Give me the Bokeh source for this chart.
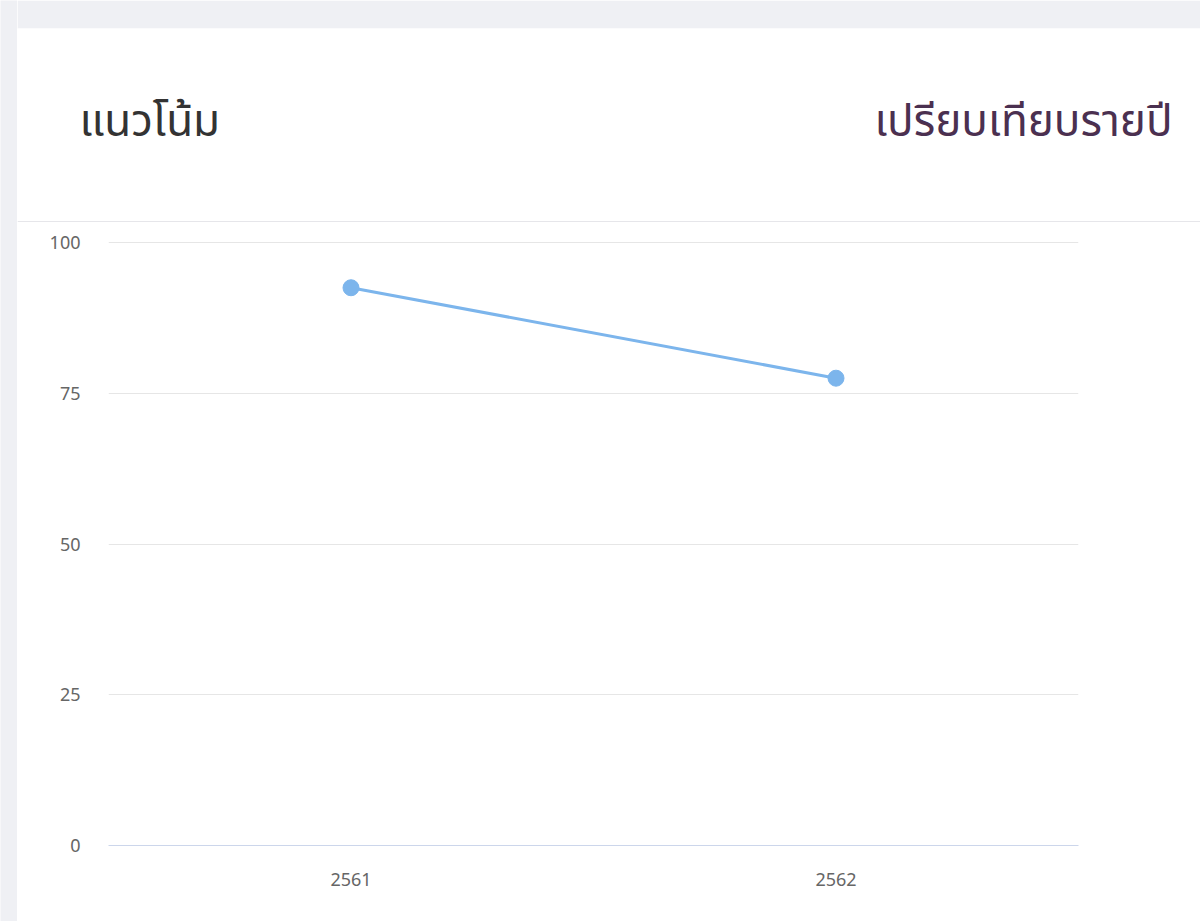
from bokeh.plotting import figure
from bokeh.models import Range1d, FactorRange, Label, Span
from bokeh.layouts import row, column
from bokeh.embed import file_html
from bokeh.resources import INLINE

# ---- data ----
years = ["2561", "2562"]
values = [92.5, 77.5]
y_ticks = [0, 25, 50, 75, 100]
title_left = "แนวโน้ม"
title_right = "เปรียบเทียบรายปี"

FONT = "Noto Sans Thai, Noto Sans, sans-serif"
PAGE_GRAY = "#eff0f4"

# ---- left gray strip ----
strip = figure(width=17, height=921, output_backend="svg", toolbar_location=None,
               x_axis_type=None, y_axis_type=None,
               min_border_left=0, min_border_right=0, min_border_top=0, min_border_bottom=0,
               background_fill_color=PAGE_GRAY, border_fill_color=PAGE_GRAY,
               outline_line_color=None)
strip.grid.grid_line_color = None
strip.add_layout(Span(location=1e9, dimension="height", line_color=None))

# ---- header (titles + separator) ----
header = figure(width=1183, height=222, output_backend="svg", toolbar_location=None,
                x_range=Range1d(17, 1200), y_range=Range1d(222, 28),
                x_axis_type=None, y_axis_type=None,
                min_border_left=0, min_border_right=0, min_border_top=28, min_border_bottom=0,
                background_fill_color="white", border_fill_color=PAGE_GRAY,
                outline_line_color=None)
header.grid.grid_line_color = None
header.add_layout(Label(x=79, y=122, text=title_left, text_font=FONT,
                        text_font_size="44px", text_color="#333333",
                        text_baseline="alphabetic", text_align="left"))
header.add_layout(Label(x=1172, y=122, text=title_right, text_font=FONT,
                        text_font_size="44px", text_color="#4b3050",
                        text_baseline="alphabetic", text_align="right"))
header.add_layout(Span(location=221, dimension="width", line_color="#e6e6ea", line_width=1))

# ---- chart ----
p = figure(
    width=1183, height=699,
    x_range=FactorRange(*years, range_padding=0),
    y_range=Range1d(0, 100.17),
    output_backend="svg", toolbar_location=None,
    min_border_left=91, min_border_right=122,
    min_border_top=19, min_border_bottom=76,
    background_fill_color="white", border_fill_color="white",
    outline_line_color=None,
)
p.line(years, values, line_color="#7cb5ec", line_width=3)
p.scatter(years, values, size=16, fill_color="#7cb5ec", line_color="#7cb5ec")

p.xgrid.grid_line_color = None
p.ygrid.grid_line_color = "#e6e6e6"
p.ygrid.grid_line_width = 1
p.yaxis.ticker = y_ticks
p.yaxis.axis_line_color = None
p.yaxis.major_tick_line_color = None
p.yaxis.minor_tick_line_color = None
p.yaxis.major_tick_out = 0
p.yaxis.major_label_standoff = 28
p.yaxis.major_label_text_font = FONT
p.yaxis.major_label_text_font_size = "18px"
p.yaxis.major_label_text_color = "#666666"

p.xaxis.axis_line_color = "#ccd6eb"
p.xaxis.axis_line_width = 1
p.xaxis.major_tick_line_color = None
p.xaxis.major_tick_out = 0
p.xaxis.major_label_standoff = 27
p.xaxis.major_label_text_font = FONT
p.xaxis.major_label_text_font_size = "18px"
p.xaxis.major_label_text_color = "#666666"

layout = row(strip, column(row(header), row(p)))
open("out.html", "w").write(file_html(layout, INLINE))
